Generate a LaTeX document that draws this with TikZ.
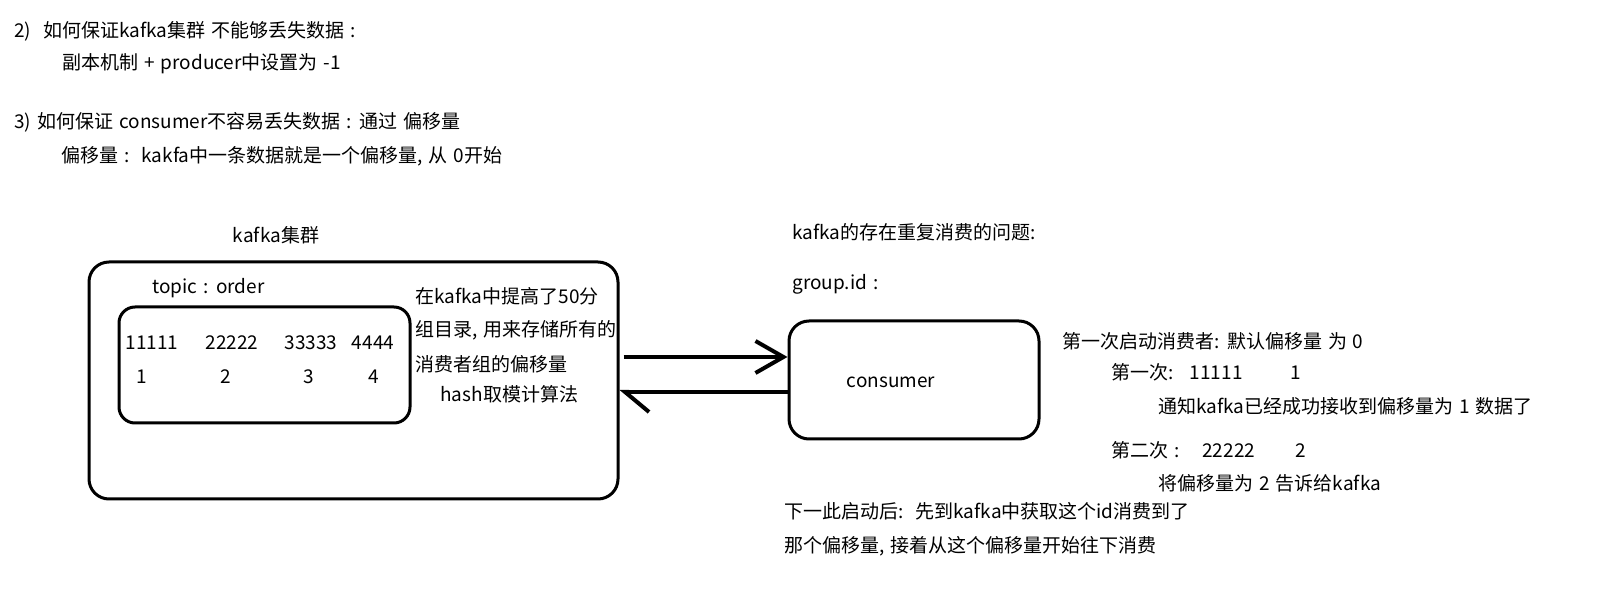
\documentclass[tikz,border=0pt]{standalone}
\usepackage{fontspec}
\setmainfont[WordSpace=1.4]{Noto Sans CJK SC}
\usetikzlibrary{arrows.meta,fit}
\tikzset{
  txt/.style={anchor=west,inner sep=0pt,font=\fontsize{9.5pt}{11pt}\selectfont},
  num/.style={inner sep=0pt,font=\fontsize{9.5pt}{11pt}\selectfont},
  rbox/.style={draw,line width=1.5pt,rounded corners=10pt,inner sep=0pt},
  ar/.style={line width=2pt,-{Straight Barb[length=14pt,width=16pt]}}
}

\begin{document}
\begin{tikzpicture}[x=0.5pt,y=-0.5pt]
\useasboundingbox (0,0) rectangle (1613,592);
% questions
\node[txt] (q2) at (14,31) {2)\ \ 如何保证kafka集群 不能够丢失数据 :};
\node[txt] (q2a) at (62,64) {副本机制 + producer中设置为 -1};
\node[txt] (q3) at (14,122) {3) 如何保证 consumer不容易丢失数据 : 通过 偏移量};
\node[txt] (q3a) at (61,156) {偏移量 :\ \ kakfa中一条数据就是一个偏移量, 从 0开始};

% kafka cluster
\node[num] (clu) at (276,235) {kafka集群};
\node[rbox,fit={(89,262)(618,499)}] (kbox) {};
\node[txt] (topic) at (152,288) {topic : order};
\node[rbox,rounded corners=8pt,fit={(119,307)(410,423)}] (tbox) {};
\node[num] (m1) at (152,343) {11111};
\node[num] (m2) at (232,343) {22222};
\node[num] (m3) at (311,343) {33333};
\node[num] (m4) at (373,343) {4444};
\node[num] (o1) at (142,377) {1};
\node[num] (o2) at (226,377) {2};
\node[num] (o3) at (309,377) {3};
\node[num] (o4) at (374,377) {4};
\node[txt] (n1) at (415,296) {在kafka中提高了50分};
\node[txt] (n2) at (415,330) {组目录, 用来存储所有的};
\node[txt] (n3) at (415,364) {消费者组的偏移量};
\node[txt] (n4) at (440,394) {hash取模计算法};

% consumer
\node[txt] (dup) at (792,232) {kafka的存在重复消费的问题:};
\node[txt] (gid) at (792,284) {group.id :};
\node[rbox,fit={(789,321)(1039,439)}] (cons) {};
\node[num] (cname) at (891,382) {consumer};
\coordinate (up) at (0,357);
\coordinate (dn) at (0,392);
\draw[ar,shorten <=2pt] (kbox.east |- up) -- (cons.west |- up);
\draw[line width=2pt,-{Straight Barb[left,length=12pt,width=20pt]}] (cons.west |- dn) -- (kbox.east |- dn);

% offsets
\node[txt] (s1) at (1062,341) {第一次启动消费者: 默认偏移量 为 0};
\node[txt] (s2) at (1111,372) {第一次:\hspace{0.85em}11111\hspace{2.5em}1};
\node[txt] (s3) at (1158,406) {通知kafka已经成功接收到偏移量为 1 数据了};
\node[txt] (s4) at (1111,450) {第二次 :\hspace{1.2em}22222\hspace{2.1em}2};
\node[txt] (s5) at (1158,483) {将偏移量为 2 告诉给kafka};
\node[txt] (s6) at (784,511) {下一此启动后:\ \ 先到kafka中获取这个id消费到了};
\node[txt] (s7) at (784,546) {那个偏移量, 接着从这个偏移量开始往下消费};
\end{tikzpicture}
\end{document}
